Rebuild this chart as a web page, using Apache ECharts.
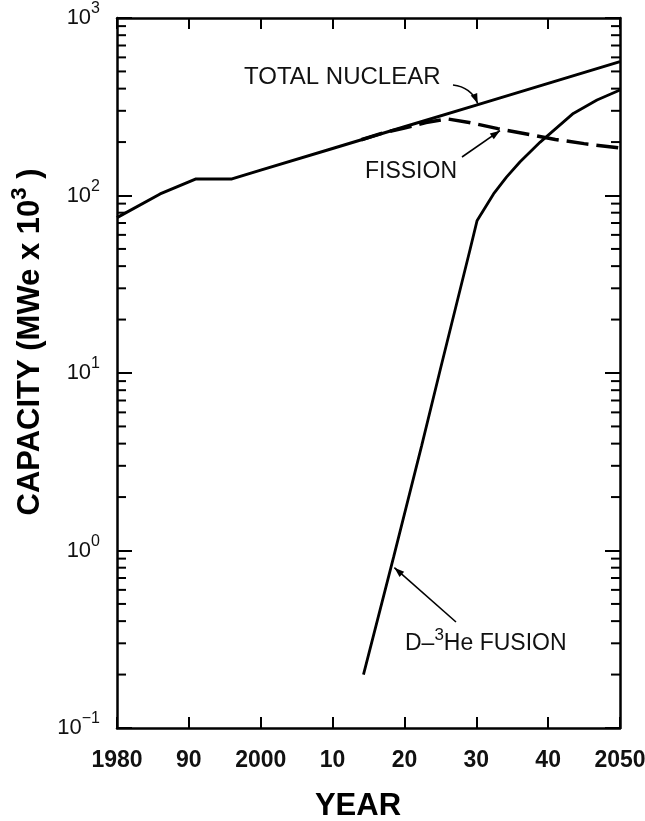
<!DOCTYPE html>
<html><head><meta charset="utf-8">
<script src="https://cdn.jsdelivr.net/npm/echarts@6/dist/echarts.min.js"></script>
<style>html,body{margin:0;padding:0;background:#fff}#c{width:645px;height:821px}</style>
</head><body><div id="c"></div>
<script>
// ---- data ----
const totalYears   = [1980, 1986, 1991, 1996, 2000, 2010, 2020, 2030, 2040, 2050];
const totalValues  = [75, 102, 124, 124, 139, 184, 244, 323, 428, 568];

const fissionYears  = [2014, 2017, 2020, 2023, 2026, 2029, 2033, 2037, 2041, 2045, 2050];
const fissionValues = [206, 225, 240, 258, 270, 258, 238, 222, 207, 196, 185];

const fusionYears  = [2014.3, 2018.5, 2022.4, 2025, 2029.1, 2030.1, 2032.4, 2034.2, 2036.1, 2038.9, 2043.5, 2046.8, 2050];
const fusionValues = [0.2, 0.92, 3.9, 10.5, 49, 72, 102, 127, 155, 200, 290, 345, 393];

const xTickValues = [1980, 1990, 2000, 2010, 2020, 2030, 2040, 2050];
const xTickLabels = ['1980', '90', '2000', '10', '20', '30', '40', '2050'];
const yTickValues = [0.1, 1, 10, 100, 1000];
const yTickSups   = ['\u22121', '0', '1', '2', '3'];
const minorTickValues = [0.2,0.3,0.4,0.5,0.6,0.7,0.8,0.9, 2,3,4,5,6,7,8,9, 20,30,40,50,60,70,80,90, 200,300,400,500,600,700,800,900];

const labels = {
  total: 'TOTAL NUCLEAR',
  fission: 'FISSION',
  fusion: ['D\u2013', '3', 'He FUSION'],
  yTitle: ['CAPACITY (MWe x 10', '3', ' )'],
  xTitle: 'YEAR'
};
// annotation arrow tips (data coords)
const arrowTips = { total: [2030.2, 330], fission: [2033.3, 232], fusion: [2018.6, 0.8] };

const FONT = '"Liberation Sans", Arial, Helvetica, sans-serif';
const pair = (xs, ys) => xs.map((x, i) => [x, ys[i]]);

const chart = echarts.init(document.getElementById('c'), null, { renderer: 'canvas' });

const xMin = 1980, xMax = 2050;

const yLabelFmt = v => {
  const i = yTickValues.findIndex(t => Math.abs(Math.log10(t) - Math.log10(v)) < 1e-6);
  if (i < 0) return '';
  return '{b|10}{s|' + yTickSups[i] + '}';
};

chart.setOption({
  animation: false,
  backgroundColor: '#ffffff',
  grid: { left: 117, right: 25, top: 18, bottom: 93, containLabel: false, outerBoundsMode: 'none' },
  xAxis: [
    {
      type: 'value', min: xMin, max: xMax, interval: 10, position: 'bottom',
      axisLine: { show: true, lineStyle: { color: '#000', width: 2.5 } },
      axisTick: { show: true, inside: true, length: 11, lineStyle: { color: '#000', width: 2 } },
      splitLine: { show: false },
      axisLabel: {
        show: true, margin: 21, color: '#111', fontSize: 23, fontWeight: 'bold', fontFamily: FONT,
        showMinLabel: true, showMaxLabel: true, hideOverlap: false,
        formatter: v => { const i = xTickValues.indexOf(Math.round(v)); return i >= 0 ? xTickLabels[i] : ''; }
      }
    },
    {
      type: 'value', min: xMin, max: xMax, interval: 10, position: 'top',
      axisLine: { show: true, lineStyle: { color: '#000', width: 2.5 } },
      axisTick: { show: true, inside: true, length: 11, lineStyle: { color: '#000', width: 2 } },
      splitLine: { show: false }, axisLabel: { show: false }
    }
  ],
  yAxis: [
    {
      type: 'log', logBase: 10, min: 0.1, max: 1000, splitNumber: 4, position: 'left',
      axisLine: { show: true, lineStyle: { color: '#000', width: 2.5 } },
      axisTick: { show: true, inside: true, length: 15, lineStyle: { color: '#000', width: 2 } },
      splitLine: { show: false },
      axisLabel: {
        show: true, margin: 17, color: '#111', fontFamily: FONT, padding: [0, 0, 6, 0],
        showMinLabel: true, showMaxLabel: true, hideOverlap: false,
        formatter: yLabelFmt,
        rich: {
          b: { fontSize: 22, fontFamily: FONT, color: '#111', verticalAlign: 'bottom', lineHeight: 28 },
          s: { fontSize: 16, fontFamily: FONT, color: '#111', verticalAlign: 'top', lineHeight: 16 }
        }
      }
    },
    {
      type: 'log', logBase: 10, min: 0.1, max: 1000, splitNumber: 4, position: 'right',
      axisLine: { show: true, lineStyle: { color: '#000', width: 2.5 } },
      axisTick: { show: true, inside: true, length: 15, lineStyle: { color: '#000', width: 2 } },
      splitLine: { show: false }, axisLabel: { show: false }
    }
  ],
  series: [
    {
      name: 'Fission', type: 'line', data: pair(fissionYears, fissionValues),
      showSymbol: false, symbol: 'none', z: 3, silent: true,
      lineStyle: { color: '#000', width: 3.5, type: [22, 8] }
    },
    {
      name: 'Total nuclear', type: 'line', data: pair(totalYears, totalValues),
      showSymbol: false, symbol: 'none', z: 4, silent: true,
      lineStyle: { color: '#000', width: 3 }
    },
    {
      name: 'D-3He fusion', type: 'line', data: pair(fusionYears, fusionValues),
      showSymbol: false, symbol: 'none', z: 4, silent: true,
      lineStyle: { color: '#000', width: 2.8 }
    },
    {
      name: 'minor ticks', type: 'custom', silent: true, clip: false, z: 5,
      data: minorTickValues.map(v => [xMin, v]),
      encode: { x: 0, y: 1 },
      renderItem: (params, api) => {
        const v = api.value(1);
        const l = api.coord([xMin, v]);
        const r = api.coord([xMax, v]);
        return {
          type: 'group',
          children: [
            { type: 'line', shape: { x1: l[0], y1: l[1], x2: l[0] + 9, y2: l[1] }, style: { stroke: '#000', lineWidth: 2 } },
            { type: 'line', shape: { x1: r[0] - 9, y1: r[1], x2: r[0], y2: r[1] }, style: { stroke: '#000', lineWidth: 2 } }
          ]
        };
      }
    }
  ]
});

// ---- annotations ----
function arrowHead(tail, tip, len, half) {
  const dx = tip[0] - tail[0], dy = tip[1] - tail[1];
  const d = Math.hypot(dx, dy) || 1;
  const ux = dx / d, uy = dy / d;
  const bx = tip[0] - ux * len, by = tip[1] - uy * len;
  return {
    type: 'polygon', silent: true, z: 20,
    shape: { points: [[tip[0], tip[1]], [bx - uy * half, by + ux * half], [bx + uy * half, by - ux * half]] },
    style: { fill: '#000' }
  };
}
const toPx = p => chart.convertToPixel({ gridIndex: 0 }, p);

const tTip = toPx(arrowTips.total);
const fTip = toPx(arrowTips.fission);
const uTip = toPx(arrowTips.fusion);
const tTail = [453, 85], tCtrl = [471, 87];
const fTail = [462, 157];
const uTail = [456, 622];

chart.setOption({
  graphic: [
    { type: 'text', silent: true, z: 20, x: 244, y: 77,
      style: { text: labels.total, fontSize: 24, fontFamily: FONT, fill: '#111', align: 'left', verticalAlign: 'middle' } },
    { type: 'bezierCurve', silent: true, z: 20,
      shape: { x1: tTail[0], y1: tTail[1], cpx1: tCtrl[0], cpy1: tCtrl[1], x2: tTip[0], y2: tTip[1] },
      style: { stroke: '#000', lineWidth: 1.6, fill: null } },
    arrowHead(tCtrl, tTip, 10, 3.5),

    { type: 'text', silent: true, z: 20, x: 365, y: 172,
      style: { text: labels.fission, fontSize: 23, fontFamily: FONT, fill: '#111', align: 'left', verticalAlign: 'middle' } },
    { type: 'line', silent: true, z: 20,
      shape: { x1: fTail[0], y1: fTail[1], x2: fTip[0], y2: fTip[1] },
      style: { stroke: '#000', lineWidth: 1.6 } },
    arrowHead(fTail, fTip, 10, 3.5),

    { type: 'text', silent: true, z: 20, x: 405, y: 641,
      style: {
        text: '{n|' + labels.fusion[0] + '}{s|' + labels.fusion[1] + '}{n|' + labels.fusion[2] + '}',
        align: 'left', verticalAlign: 'middle', fill: '#111',
        rich: {
          n: { fontSize: 23, fontFamily: FONT, fill: '#111', verticalAlign: 'bottom', lineHeight: 29 },
          s: { fontSize: 17, fontFamily: FONT, fill: '#111', verticalAlign: 'top', lineHeight: 17 }
        }
      } },
    { type: 'line', silent: true, z: 20,
      shape: { x1: uTail[0], y1: uTail[1], x2: uTip[0], y2: uTip[1] },
      style: { stroke: '#000', lineWidth: 1.6 } },
    arrowHead(uTail, uTip, 10, 3.5),

    { type: 'text', silent: true, z: 20, x: 27, y: 342, rotation: Math.PI / 2,
      style: {
        text: '{t|' + labels.yTitle[0] + '}{u|' + labels.yTitle[1] + '}{t|' + labels.yTitle[2] + '}',
        align: 'center', verticalAlign: 'middle', fill: '#000',
        rich: {
          t: { fontSize: 31, fontWeight: 'bold', fontFamily: FONT, fill: '#000', verticalAlign: 'bottom', lineHeight: 37 },
          u: { fontSize: 22, fontWeight: 'bold', fontFamily: FONT, fill: '#000', verticalAlign: 'top', lineHeight: 22 }
        }
      } },
    { type: 'text', silent: true, z: 20, x: 358, y: 806,
      style: { text: labels.xTitle, fontSize: 31, fontWeight: 'bold', fontFamily: FONT, fill: '#000', align: 'center', verticalAlign: 'middle' } }
  ]
});
</script></body></html>
